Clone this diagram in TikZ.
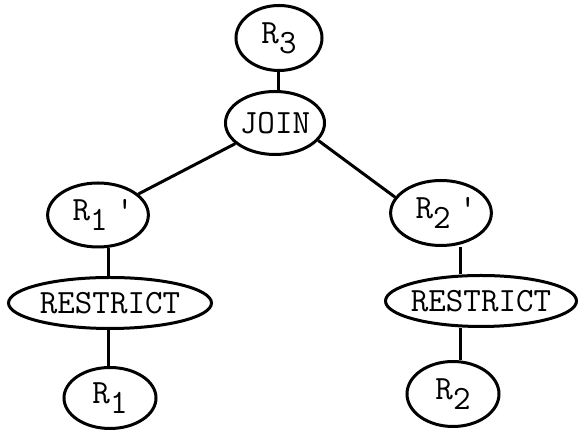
\documentclass[tikz,border=0pt]{standalone}
\usetikzlibrary{shapes}
\newcommand{\lowsub}[1]{\raisebox{-0.3em}{#1}}
\begin{document}
\begin{tikzpicture}[x=0.5pt,y=-0.5pt,line width=1.5pt,every node/.style={draw,ellipse,inner sep=0pt,line width=1.5pt,font=\fontsize{17}{20}\selectfont\ttfamily}]
\useasboundingbox (0,0) rectangle (579,431);
\node[minimum width=43pt,minimum height=32.5pt] (r3) at (279,38) {R\lowsub{3}};
\node[minimum width=44pt,minimum height=31.5pt] (join) at (275,123) {JOIN};
\node[minimum width=45.5pt,minimum height=32pt] (r1p) at (98,215) {\hspace{0.3em}R\lowsub{1}\hspace{0.25em}\textquotesingle};
\node[minimum width=46.5pt,minimum height=32.5pt] (r2p) at (441,213) {\hspace{0.3em}R\lowsub{2}\hspace{0.25em}\textquotesingle};
\node[minimum width=101.5pt,minimum height=25.5pt,inner xsep=-3pt] (rl) at (110,303) {RESTRICT};
\node[minimum width=95.5pt,minimum height=25.5pt,inner xsep=-3pt] (rr) at (481,301) {RESTRICT};
\node[minimum width=46pt,minimum height=30.5pt] (r1) at (110,398) {R\lowsub{1}};
\node[minimum width=46pt,minimum height=32.5pt] (r2) at (453,394) {R\lowsub{2}};
\coordinate (colT) at (278,0);
\coordinate (colL) at (108,0);
\coordinate (colR) at (460,0);
\draw (r3.south -| colT) -- (join.north -| colT);
\draw (join) -- (r1p);
\draw (join.-22) -- (r2p.161);
\draw (r1p.south -| colL) -- (rl.north -| colL);
\draw (rl.south -| colL) -- (r1.north -| colL);
\draw (r2p.south -| colR) -- (rr.north -| colR);
\draw (rr.south -| colR) -- (r2.north -| colR);
\end{tikzpicture}
\end{document}
